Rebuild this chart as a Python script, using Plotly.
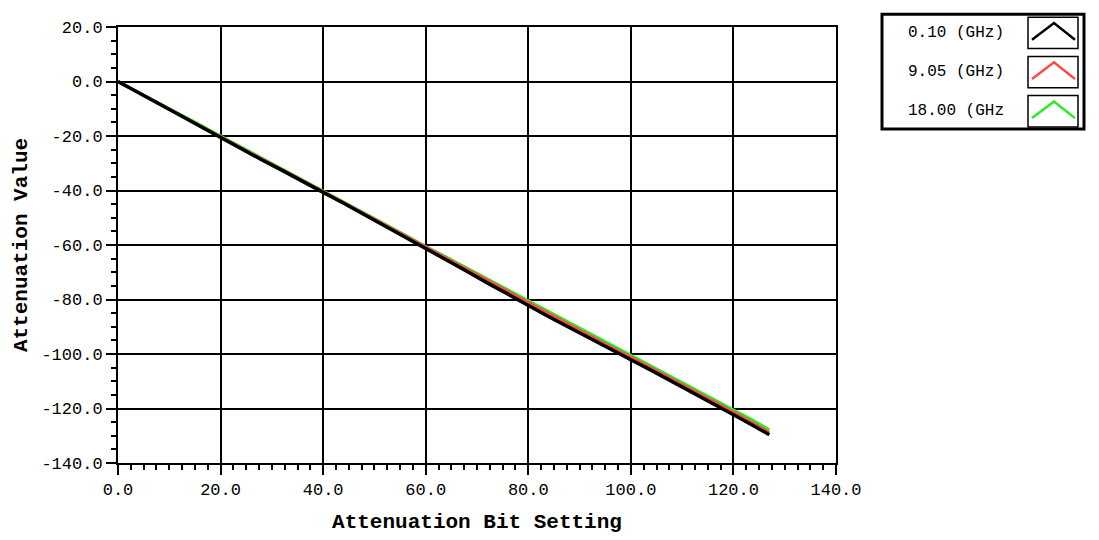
import plotly.graph_objects as go

# ---- data ----
bit_setting = [0, 4, 8, 12, 16, 20, 24, 28, 32, 36, 40, 44, 48, 52, 56, 60, 64,
               68, 72, 76, 80, 84, 88, 92, 96, 100, 104, 108, 112, 116, 120, 124, 127]
att_0_10 = [0, -4.2, -8.3, -12.3, -16.4, -20.6, -24.6, -28.7, -32.6, -36.8, -40.7,
            -44.7, -48.8, -52.9, -57.1, -61.3, -65.4, -69.6, -73.9, -78.1, -82.3,
            -86.3, -90.3, -94.3, -98.4, -102.1, -106.0, -110.0, -114.1, -118.1,
            -122.3, -126.4, -129.6]
att_9_05 = [0, -4.0, -8.0, -12.0, -16.1, -20.3, -24.3, -28.4, -32.3, -36.5, -40.4,
            -44.4, -48.5, -52.5, -56.7, -60.8, -64.8, -68.9, -73.1, -77.2, -81.3,
            -85.3, -89.3, -93.3, -97.4, -101.1, -105.1, -109.1, -113.1, -117.2,
            -121.3, -125.5, -128.8]
att_18_00 = [0, -3.9, -7.9, -11.9, -15.9, -20.0, -24.0, -28.1, -32.1, -36.2, -40.2,
             -44.1, -48.2, -52.3, -56.4, -60.6, -64.4, -68.4, -72.4, -76.4, -80.4,
             -84.3, -88.2, -92.2, -96.5, -100.5, -104.4, -108.4, -112.3, -116.3,
             -120.3, -124.5, -127.9]
series_labels = ["0.10 (GHz)", "9.05 (GHz)", "18.00 (GHz"]
series_colors = ["#000000", "#FF4848", "#22EE22"]
x_ticks = [0, 20, 40, 60, 80, 100, 120, 140]
y_ticks = [20, 0, -20, -40, -60, -80, -100, -120, -140]

OFF = 8  # page body margin
W, H = 1099 - OFF, 540 - OFF
L, T = 118 - OFF, 19 - OFF
R = W - (836 - OFF)
B = H - (464 - OFF)
PW, PH = W - L - R, H - T - B


def px(x):
    # page pixel -> paper
    return (x - OFF - L) / PW


def py(y):
    return (H - B - (y - OFF)) / PH


fig = go.Figure()
# draw order: green, red, black on top
for ys, col, wd in [(att_18_00, series_colors[2], 3), (att_9_05, series_colors[1], 3),
                    (att_0_10, series_colors[0], 3.5)]:
    fig.add_trace(go.Scatter(x=bit_setting, y=ys, mode="lines",
                             line=dict(color=col, width=wd), showlegend=False))

mono = "Liberation Mono"
axis_common = dict(showline=True, linecolor="black", linewidth=2, mirror=True,
                   showgrid=True, gridcolor="black", gridwidth=2, zeroline=False,
                   ticks="outside", ticklen=10, tickwidth=2, tickcolor="black",
                   tickfont=dict(family=mono, size=17, color="black"))
fig.update_xaxes(range=[0, 140], tickvals=x_ticks,
                 ticktext=[f"{v:.1f}" for v in x_ticks],
                 minor=dict(dtick=2.5, ticks="outside", ticklen=5, tickwidth=2,
                            tickcolor="black", showgrid=False),
                 title=dict(text="<b>Attenuation Bit Setting</b>",
                            font=dict(family=mono, size=21, color="black"), standoff=14),
                 **axis_common)
fig.update_yaxes(range=[-140, 20], tickvals=y_ticks,
                 ticktext=[f"{v:.1f}" for v in y_ticks],
                 minor=dict(dtick=5, ticks="outside", ticklen=5, tickwidth=2,
                            tickcolor="black", showgrid=False),
                 title=dict(text="<b>Attenuation Value</b>",
                            font=dict(family=mono, size=21, color="black"), standoff=8),
                 **axis_common)

# custom legend box
shapes = []
shapes.append(dict(type="rect", xref="paper", yref="paper", x0=px(882), x1=px(1084),
                   y0=py(123), y1=py(6), line=dict(color="black", width=3),
                   fillcolor="white"))
annotations = []
for i, (lab, col) in enumerate(zip(series_labels, series_colors)):
    top = 9 + 40 * i
    shapes.append(dict(type="rect", xref="paper", yref="paper", x0=px(1028), x1=px(1078),
                       y0=py(top + 32), y1=py(top), line=dict(color="black", width=1.5)))
    shapes.append(dict(type="path", xref="paper", yref="paper",
                       path=f"M {px(1032)},{py(top + 23)} L {px(1054)},{py(top + 6)} L {px(1075)},{py(top + 23)}",
                       line=dict(color=col, width=2.5)))
    annotations.append(dict(xref="paper", yref="paper", x=px(906), y=py(top + 16),
                            xanchor="left", yanchor="middle", text=lab, showarrow=False,
                            font=dict(family=mono, size=16, color="black")))

fig.update_layout(width=W, height=H, margin=dict(l=L, r=R, t=T, b=B),
                  paper_bgcolor="white", plot_bgcolor="white",
                  shapes=shapes, annotations=annotations, showlegend=False)

fig.write_html("out.html")
